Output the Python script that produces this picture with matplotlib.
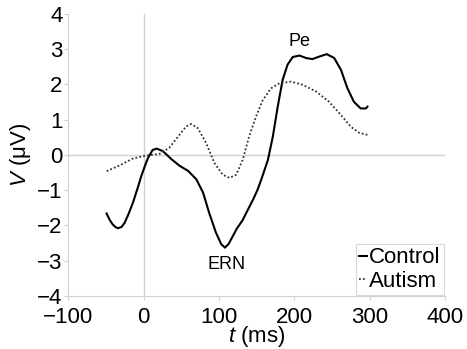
import numpy as np
import matplotlib
matplotlib.use("Agg")
import matplotlib.pyplot as plt

plt.rcParams["font.family"] = ["Liberation Sans", "DejaVu Sans"]
plt.rcParams["mathtext.fontset"] = "custom"
plt.rcParams["mathtext.rm"] = "Liberation Sans"
plt.rcParams["mathtext.it"] = "Liberation Sans:italic"

# grand averages (ms, microvolts)
t_control = [-49, -45, -41, -37, -34, -29, -25, -20, -14, -8, -3, 2, 6, 12, 17.5, 25.5, 37,
             48, 59, 70, 79, 87, 96, 103, 108, 113, 118, 124, 131.5, 138, 145, 151, 156,
             165, 171.5, 178, 184.5, 191, 198, 207, 215.5, 224, 233, 243, 253, 262, 270.5,
             279, 288, 295, 297]
v_control = [-1.66, -1.84, -1.97, -2.05, -2.08, -2.04, -1.92, -1.68, -1.35, -0.95, -0.6,
             -0.3, -0.08, 0.14, 0.18, 0.11, -0.12, -0.31, -0.45, -0.69, -1.07, -1.64, -2.2,
             -2.53, -2.63, -2.52, -2.32, -2.08, -1.85, -1.57, -1.28, -1.0, -0.71, -0.14,
             0.52, 1.37, 2.13, 2.56, 2.78, 2.82, 2.75, 2.72, 2.79, 2.86, 2.75, 2.41, 1.89,
             1.51, 1.32, 1.32, 1.37]

t_autism = [-49, -32, -14, 3, 21, 34, 48, 56.5, 63, 72, 83, 94, 105, 114, 123, 131.5, 140,
            149, 158, 169, 180, 195.5, 211, 229, 246, 262, 275, 286, 297]
v_autism = [-0.46, -0.3, -0.1, -0.02, 0.03, 0.2, 0.58, 0.81, 0.88, 0.76, 0.34, -0.23, -0.56,
            -0.65, -0.56, -0.14, 0.52, 1.08, 1.55, 1.89, 2.03, 2.08, 1.99, 1.8, 1.51, 1.13,
            0.8, 0.63, 0.57]

peak_names = ["Pe", "ERN"]
peak_t = [207, 110]
peak_v = [3.22, -3.12]

fig = plt.figure(figsize=(4.67, 3.49), dpi=100)
ax = fig.add_axes([0.146, 0.152, 0.807, 0.808])

grey = "#d0d0d0"
ax.axhline(0, color=grey, lw=1, zorder=0)
ax.axvline(0, color=grey, lw=1, zorder=0)

ax.plot(t_control, v_control, color="black", lw=1.5, label="Control")
ax.plot(t_autism, v_autism, color="#333333", lw=1.3, ls=(0, (1, 1.2)), label="Autism")

for name, x, y in zip(peak_names, peak_t, peak_v):
    ax.text(x, y, name, ha="center", va="center", fontsize=13)

ax.set_xlim(-100, 400)
ax.set_ylim(-4, 4)
ax.set_xticks(np.arange(-100, 401, 100))
ax.set_yticks(np.arange(-4, 5, 1))
ax.tick_params(labelsize=16, color=grey, length=3, width=0.8, pad=1)
ax.tick_params(axis="x", pad=5)

for s in ["top", "right"]:
    ax.spines[s].set_visible(False)
for s in ["left", "bottom"]:
    ax.spines[s].set_color(grey)
    ax.spines[s].set_linewidth(0.8)

ax.set_xlabel("$t$ (ms)", fontsize=16, labelpad=-3)
ax.set_ylabel("$V$ (μV)", fontsize=16, labelpad=3)

leg = ax.legend(loc="lower right", fontsize=16, handlelength=0.35, handletextpad=0.1,
                borderpad=0.15, borderaxespad=0.05, labelspacing=0.1, fancybox=False)
leg.get_frame().set_edgecolor(grey)
leg.get_frame().set_linewidth(0.8)

fig.savefig("out.png", dpi=100)
